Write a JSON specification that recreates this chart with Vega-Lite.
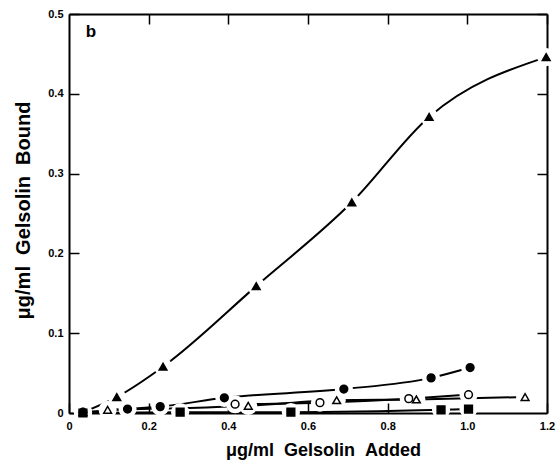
{
  "$schema": "https://vega.github.io/schema/vega-lite/v6.json",
  "width": 478,
  "height": 399,
  "autosize": "none",
  "padding": {"left": 69, "top": 14, "right": 12, "bottom": 47},
  "background": "white",
  "config": {
    "view": {"stroke": null},
    "font": "Liberation Sans",
    "axis": {
      "domainColor": "black", "domainWidth": 2,
      "tickColor": "black", "tickWidth": 1.5,
      "labelColor": "black", "titleColor": "black",
      "labelFont": "Liberation Sans", "labelFontWeight": "bold", "labelFontSize": 11,
      "titleFont": "Liberation Sans", "titleFontWeight": "bold", "titleFontSize": 18,
      "grid": false, "zindex": 1, "labelFlush": false, "labelOverlap": false
    }
  },
  "datasets": {
    "pts": [
      {"series": "ftri", "x": 0.035, "y": 0.001},
      {"series": "ftri", "x": 0.12, "y": 0.02},
      {"series": "ftri", "x": 0.236, "y": 0.058},
      {"series": "ftri", "x": 0.47, "y": 0.159},
      {"series": "ftri", "x": 0.71, "y": 0.264},
      {"series": "ftri", "x": 0.904, "y": 0.371},
      {"series": "ftri", "x": 1.198, "y": 0.446},
      {"series": "fcirc", "x": 0.035, "y": 0.001},
      {"series": "fcirc", "x": 0.147, "y": 0.005},
      {"series": "fcirc", "x": 0.229, "y": 0.008},
      {"series": "fcirc", "x": 0.39, "y": 0.019},
      {"series": "fcirc", "x": 0.69, "y": 0.03},
      {"series": "fcirc", "x": 0.909, "y": 0.044},
      {"series": "fcirc", "x": 1.007, "y": 0.057},
      {"series": "ocirc", "x": 0.417, "y": 0.011},
      {"series": "ocirc", "x": 0.63, "y": 0.013},
      {"series": "ocirc", "x": 0.853, "y": 0.018},
      {"series": "ocirc", "x": 1.003, "y": 0.023},
      {"series": "otri", "x": 0.097, "y": 0.004},
      {"series": "otri", "x": 0.45, "y": 0.009},
      {"series": "otri", "x": 0.672, "y": 0.016},
      {"series": "otri", "x": 0.872, "y": 0.017},
      {"series": "otri", "x": 1.145, "y": 0.02},
      {"series": "fsq", "x": 0.035, "y": 0.0},
      {"series": "fsq", "x": 0.279, "y": 0.001},
      {"series": "fsq", "x": 0.557, "y": 0.001},
      {"series": "fsq", "x": 0.934, "y": 0.004},
      {"series": "fsq", "x": 1.003, "y": 0.005}
    ],
    "lbl": [{"x": 0.055, "y": 0.477, "text": "b"}]
  },
  "layer": [
    {
      "data": {"name": "pts"},
      "mark": {"type": "line", "interpolate": "monotone", "strokeWidth": 2, "color": "black"},
      "encoding": {
        "x": {"field": "x", "type": "quantitative", "scale": {"domain": [0, 1.2], "nice": false, "zero": false},
          "axis": {"orient": "bottom", "values": [0, 0.2, 0.4, 0.6, 0.8, 1, 1.2], "tickSize": -10, "labelPadding": 17,
            "labelExpr": "datum.value == 0 ? '0' : format(datum.value, '.1f')",
            "title": "μg/ml\u00a0\u00a0Gelsolin\u00a0\u00a0Added", "titleX": 254, "titleY": 42, "titleBaseline": "alphabetic", "titleAlign": "center"}},
        "y": {"field": "y", "type": "quantitative", "scale": {"domain": [0, 0.5], "nice": false, "zero": false},
          "axis": {"orient": "left", "values": [0, 0.1, 0.2, 0.3, 0.4, 0.5], "tickSize": -10, "labelPadding": 16,
            "labelExpr": "datum.value == 0 ? '0' : format(datum.value, '.1f')",
            "title": "μg/ml\u00a0\u00a0Gelsolin\u00a0\u00a0Bound", "titleFontSize": 20, "titleX": -40, "titleY": 196, "titleAngle": 270, "titleBaseline": "alphabetic", "titleAlign": "center"}},
        "detail": {"field": "series"}
      }
    },
    {
      "data": {"name": "pts"},
      "mark": {"type": "point", "shape": "circle", "filled": true, "color": "white", "size": 330, "opacity": 1},
      "encoding": {
        "x": {"field": "x", "type": "quantitative",
          "axis": {"orient": "top", "values": [0.2, 0.4, 0.6, 0.8, 1, 1.2], "tickSize": -10, "labels": false, "title": null}},
        "y": {"field": "y", "type": "quantitative",
          "axis": {"orient": "right", "values": [0.1, 0.2, 0.3, 0.4, 0.5], "tickSize": -10, "labels": false, "title": null}}
      }
    },
    {
      "data": {"name": "pts"},
      "mark": {"type": "point", "filled": true, "stroke": "black", "strokeWidth": 1.5, "opacity": 1},
      "encoding": {
        "x": {"field": "x", "type": "quantitative", "axis": null},
        "y": {"field": "y", "type": "quantitative", "axis": null},
        "shape": {"field": "series", "type": "nominal", "legend": null,
          "scale": {"domain": ["ftri", "fcirc", "ocirc", "otri", "fsq"], "range": ["triangle-up", "circle", "circle", "triangle-up", "square"]}},
        "fill": {"field": "series", "type": "nominal", "legend": null,
          "scale": {"domain": ["ftri", "fcirc", "ocirc", "otri", "fsq"], "range": ["black", "black", "white", "white", "black"]}},
        "size": {"field": "series", "type": "ordinal", "legend": null,
          "scale": {"domain": ["ftri", "fcirc", "ocirc", "otri", "fsq"], "range": [60, 60, 50, 45, 60]}}
      }
    },
    {
      "data": {"name": "lbl"},
      "mark": {"type": "text", "fontSize": 17, "fontWeight": "bold", "font": "Liberation Sans", "color": "black", "baseline": "middle", "align": "center"},
      "encoding": {
        "x": {"field": "x", "type": "quantitative", "axis": null},
        "y": {"field": "y", "type": "quantitative", "axis": null},
        "text": {"field": "text"}
      }
    }
  ],
  "resolve": {"axis": {"x": "independent", "y": "independent"}}
}
